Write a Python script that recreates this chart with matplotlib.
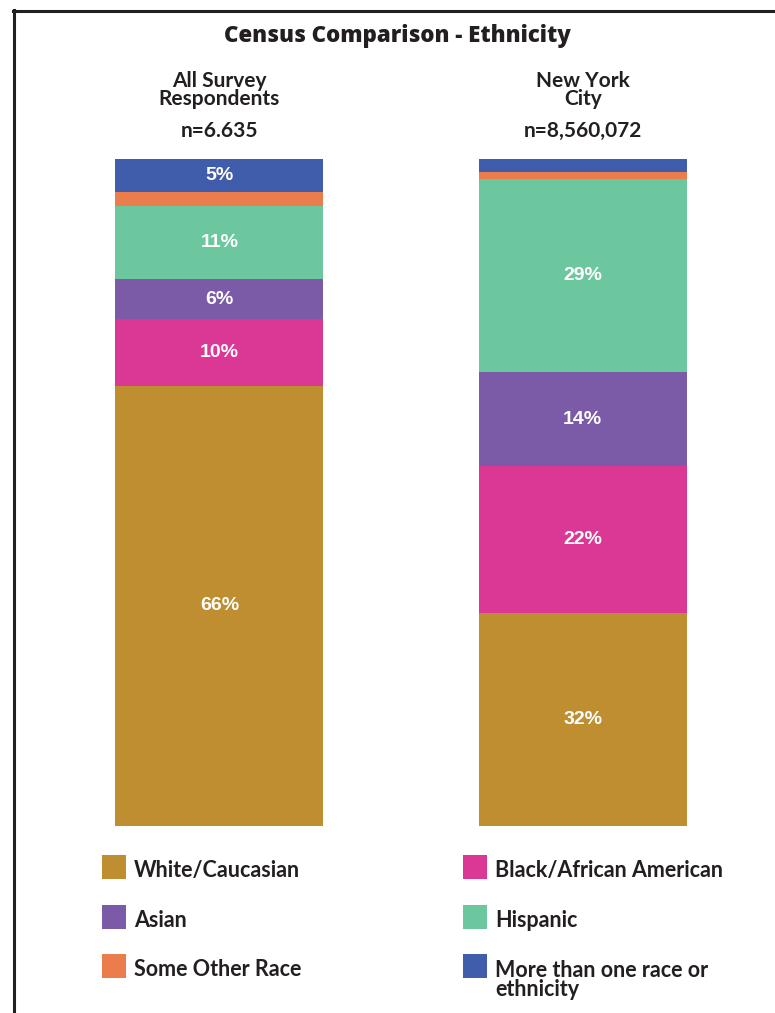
import matplotlib
matplotlib.use("Agg")
import matplotlib.pyplot as plt
from matplotlib.patches import Rectangle
from matplotlib.lines import Line2D
import numpy as np

# ── Data ──────────────────────────────────────────────────────────────────────
groups = ["All Survey\nRespondents", "New York\nCity"]
group_n = ["n=6.635", "n=8,560,072"]
categories = ["White/Caucasian", "Black/African American", "Asian", "Hispanic",
              "Some Other Race", "More than one race or\nethnicity"]
survey_pct = [66, 10, 6, 11, 2, 5]
nyc_pct = [32, 22, 14, 29, 1, 2]
colors = ["#BF8E30", "#DA3894", "#7B5BA8", "#6CC79E", "#EA7D4B", "#3F5DAB"]

W, H = 775, 1013
fig = plt.figure(figsize=(W / 100, H / 100), dpi=100)
fig.patch.set_facecolor("white")
INK = "#231f20"


def fx(px):
    return px / W


def fy(py):
    return 1 - py / H


# ── Frame (top + left rule) ───────────────────────────────────────────────────
fig.add_artist(Line2D([fx(13), 1.0], [fy(11), fy(11)], color=INK, lw=2.2))
fig.add_artist(Line2D([fx(14), fx(14)], [fy(10), 0.0], color=INK, lw=2.2))

# ── Bars ──────────────────────────────────────────────────────────────────────
ax = fig.add_axes([fx(74), fy(826), fx(728) - fx(74), fy(159) - fy(826)])
ax.set_xlim(-0.4, 1.4)
ax.set_ylim(0, 100)
ax.axis("off")

x = np.arange(len(groups))
values = np.array([survey_pct, nyc_pct])
bottom = np.zeros(len(groups))
for k, cat in enumerate(categories):
    vals = values[:, k]
    ax.bar(x, vals, bottom=bottom, width=0.572, color=colors[k], linewidth=0)
    for i, v in enumerate(vals):
        if v >= 5:
            ax.text(x[i], bottom[i] + v / 2, f"{v}%", ha="center", va="center",
                    color="white", fontsize=14, fontweight="bold",
                    family="Liberation Sans")
    bottom += vals

# ── Titles ────────────────────────────────────────────────────────────────────
fig.text(fx(397), fy(42), "Census Comparison - Ethnicity", ha="center",
         va="baseline", fontsize=16, fontweight="heavy", family="Open Sans",
         color=INK)
for i, (g, n) in enumerate(zip(groups, group_n)):
    cx = fx(74) + (x[i] + 0.4) / 1.8 * (fx(728) - fx(74))
    # baseline of the last line
    fig.text(cx, fy(105), g, ha="center", va="baseline", fontsize=15,
             fontweight="bold", family="Lato", color=INK, linespacing=0.88)
    fig.text(cx, fy(137), n, ha="center", va="baseline", fontsize=15,
             fontweight="bold", family="Lato", color=INK)

# ── Legend (2 columns, row-major) ─────────────────────────────────────────────
sq = 24
col_x = [102, 463]
row_y = [855, 905, 954]
for k, cat in enumerate(categories):
    r, c = divmod(k, 2)
    extra = 20 * cat.count("\n")
    fig.add_artist(Rectangle((fx(col_x[c]), fy(row_y[r] + sq)), fx(sq),
                             sq / H, color=colors[k], lw=0))
    fig.text(fx(col_x[c] + 32), fy(row_y[r] + 22 + extra), cat, ha="left",
             va="baseline", fontsize=15.5, fontweight="bold", family="Lato",
             color=INK, linespacing=0.9)

fig.savefig("out.png", dpi=100, facecolor="white")
